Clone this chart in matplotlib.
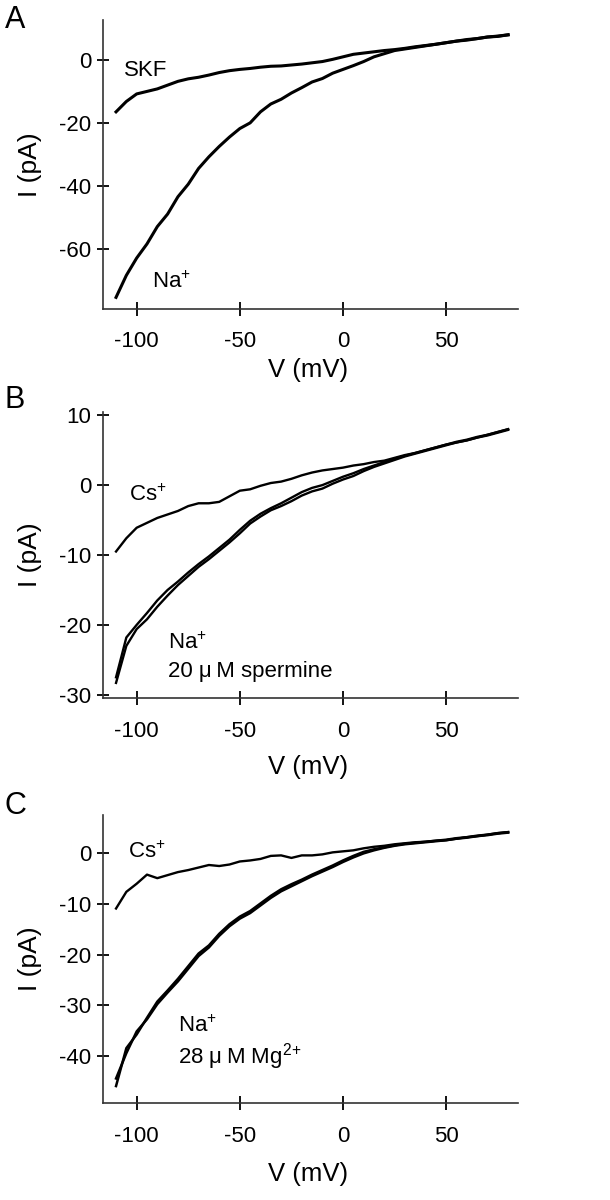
import matplotlib.pyplot as plt

plt.rcParams['font.family'] = ['Liberation Sans', 'DejaVu Sans']
plt.rcParams['mathtext.fontset'] = 'custom'
plt.rcParams['mathtext.rm'] = 'Liberation Sans'
plt.rcParams['mathtext.it'] = 'Liberation Sans:italic'
plt.rcParams['mathtext.bf'] = 'Liberation Sans:bold'
plt.rcParams['axes.unicode_minus'] = False

# membrane voltage (mV), same ramp for every trace
volts = [-110, -105, -100, -95, -90, -85, -80, -75, -70, -65, -60, -55, -50,
         -45, -40, -35, -30, -25, -20, -15, -10, -5, 0, 5, 10, 15, 20, 25, 30,
         35, 40, 45, 50, 55, 60, 65, 70, 75, 80]

# panel A (pA)
a_na = [-75.5, -68.5, -63.0, -58.5, -53.0, -49.0, -43.5, -39.5, -34.5, -30.8,
        -27.5, -24.5, -21.8, -20.0, -16.5, -14.0, -12.5, -10.5, -8.8, -7.0,
        -5.9, -4.2, -3.0, -1.8, -0.5, 1.0, 2.0, 3.0, 3.5, 4.0, 4.5, 5.0, 5.5,
        6.0, 6.5, 6.8, 7.3, 7.5, 8.0]
a_skf = [-16.5, -13.2, -10.8, -10.0, -9.2, -8.0, -6.8, -6.0, -5.5, -4.8, -4.0,
         -3.4, -3.0, -2.7, -2.3, -2.0, -1.9, -1.6, -1.3, -0.9, -0.5, 0.2, 1.0,
         1.8, 2.2, 2.6, 3.0, 3.3, 3.7, 4.2, 4.6, 5.0, 5.5, 6.0, 6.3, 6.8, 7.3,
         7.6, 8.0]

# panel B (pA)
b_cs = [-9.5, -7.6, -6.1, -5.4, -4.7, -4.2, -3.7, -3.0, -2.6, -2.6, -2.4, -1.6,
        -0.8, -0.6, -0.1, 0.3, 0.5, 0.9, 1.4, 1.8, 2.1, 2.3, 2.5, 2.8, 3.0, 3.3,
        3.5, 3.9, 4.3, 4.6, 5.0, 5.4, 5.8, 6.1, 6.4, 6.8, 7.2, 7.6, 8.0]
b_na1 = [-28.3, -23.0, -20.6, -19.2, -17.4, -15.8, -14.3, -13.0, -11.7, -10.6,
         -9.4, -8.2, -6.9, -5.5, -4.5, -3.6, -3.0, -2.3, -1.5, -0.9, -0.5, 0.2,
         0.8, 1.3, 2.0, 2.6, 3.1, 3.6, 4.1, 4.5, 4.9, 5.3, 5.7, 6.1, 6.4, 6.8,
         7.1, 7.5, 7.9]
b_na2 = [-27.5, -21.8, -20.0, -18.3, -16.5, -15.0, -13.8, -12.5, -11.3, -10.2,
         -9.0, -7.8, -6.4, -5.1, -4.1, -3.3, -2.6, -1.8, -1.0, -0.4, 0.0, 0.6,
         1.2, 1.7, 2.3, 2.8, 3.3, 3.8, 4.2, 4.6, 5.0, 5.4, 5.8, 6.2, 6.5, 6.9,
         7.2, 7.6, 8.0]

# panel C (pA)
c_cs = [-10.9, -7.6, -6.0, -4.2, -4.9, -4.3, -3.7, -3.3, -2.8, -2.3, -2.5, -2.2,
        -1.6, -1.4, -1.1, -0.5, -0.4, -0.9, -0.4, -0.4, -0.2, 0.2, 0.4, 0.6,
        1.0, 1.3, 1.5, 1.8, 2.0, 2.2, 2.3, 2.5, 2.6, 2.9, 3.2, 3.4, 3.7, 4.0,
        4.2]
c_na1 = [-46.0, -38.5, -35.8, -32.5, -29.3, -27.1, -24.8, -22.3, -19.8, -18.2,
         -15.9, -14.0, -12.5, -11.4, -9.9, -8.4, -7.1, -6.1, -5.2, -4.2, -3.3,
         -2.4, -1.4, -0.5, 0.3, 0.8, 1.2, 1.6, 1.9, 2.1, 2.3, 2.5, 2.7, 3.0,
         3.2, 3.5, 3.7, 4.0, 4.2]
c_na2 = [-44.5, -39.5, -35.2, -32.8, -29.8, -27.5, -25.3, -22.8, -20.3, -18.6,
         -16.3, -14.4, -12.9, -11.8, -10.3, -8.8, -7.5, -6.5, -5.5, -4.5, -3.6,
         -2.7, -1.7, -0.8, 0.0, 0.6, 1.1, 1.5, 1.8, 2.0, 2.2, 2.4, 2.6, 2.9,
         3.1, 3.4, 3.6, 3.9, 4.1]

x_ticks = [-100, -50, 0, 50]
a_yticks = [-60, -40, -20, 0]
b_yticks = [-30, -20, -10, 0, 10]
c_yticks = [-40, -30, -20, -10, 0]

fig = plt.figure(figsize=(6.1, 12), dpi=100)


def make_axes(rect, ylim, yticks, xlab_y):
    ax = fig.add_axes(rect)
    ax.set_xlim(-116.3, 84.8)
    ax.set_ylim(*ylim)
    ax.set_xticks(x_ticks)
    ax.set_yticks(yticks)
    for side in ['top', 'right']:
        ax.spines[side].set_visible(False)
    for side in ['left', 'bottom']:
        ax.spines[side].set_color('#333333')
        ax.spines[side].set_linewidth(1.2)
    ax.tick_params(direction='inout', width=1.3, color='black', labelsize=16)
    ax.tick_params(axis='x', length=10, pad=11)
    ax.tick_params(axis='y', length=9, pad=4)
    ax.set_xlabel('V (mV)', fontsize=18.5, va='top')
    ax.set_ylabel('I (pA)', fontsize=19)
    ax.xaxis.set_label_coords(0.495, xlab_y)
    ax.yaxis.set_label_coords(-0.147, 0.5)
    return ax


ax_a = make_axes([0.1689, 0.7425, 0.6803, 0.2408], (-79.2, 12.7), a_yticks, -0.17)
ax_a.plot(volts, a_na, color='black', lw=2.2)
ax_a.plot(volts, a_skf, color='black', lw=2.2)
ax_a.text(-106, -5.2, 'SKF', fontsize=16)
ax_a.text(-92.5, -72.5, 'Na$^{+}$', fontsize=16)

ax_b = make_axes([0.1689, 0.4181, 0.6803, 0.2388], (-30.5, 10.5), b_yticks, -0.198)
ax_b.plot(volts, b_na1, color='black', lw=1.7)
ax_b.plot(volts, b_na2, color='black', lw=1.7)
ax_b.plot(volts, b_cs, color='black', lw=1.7)
ax_b.text(-103.5, -2.3, 'Cs$^{+}$', fontsize=16)
ax_b.text(-85, -23.5, 'Na$^{+}$', fontsize=16)
ax_b.text(-85, -27.5, '20 \u03bc\u2009M spermine', fontsize=16)

ax_c = make_axes([0.1689, 0.0806, 0.6803, 0.2403], (-49.4, 7.6), c_yticks, -0.204)
ax_c.plot(volts, c_na1, color='black', lw=1.8)
ax_c.plot(volts, c_na2, color='black', lw=1.8)
ax_c.plot(volts, c_cs, color='black', lw=1.7)
ax_c.text(-104, -0.9, 'Cs$^{+}$', fontsize=16)
ax_c.text(-80, -35.4, 'Na$^{+}$', fontsize=16)
ax_c.text(-80, -41.5, '28 \u03bc\u2009M Mg$^{2\\!+}$', fontsize=16)

fig.text(0.008, 0.996, 'A', fontsize=22, va='top')
fig.text(0.008, 0.679, 'B', fontsize=22, va='top')
fig.text(0.008, 0.341, 'C', fontsize=22, va='top')

fig.savefig('out.png', dpi=100)
